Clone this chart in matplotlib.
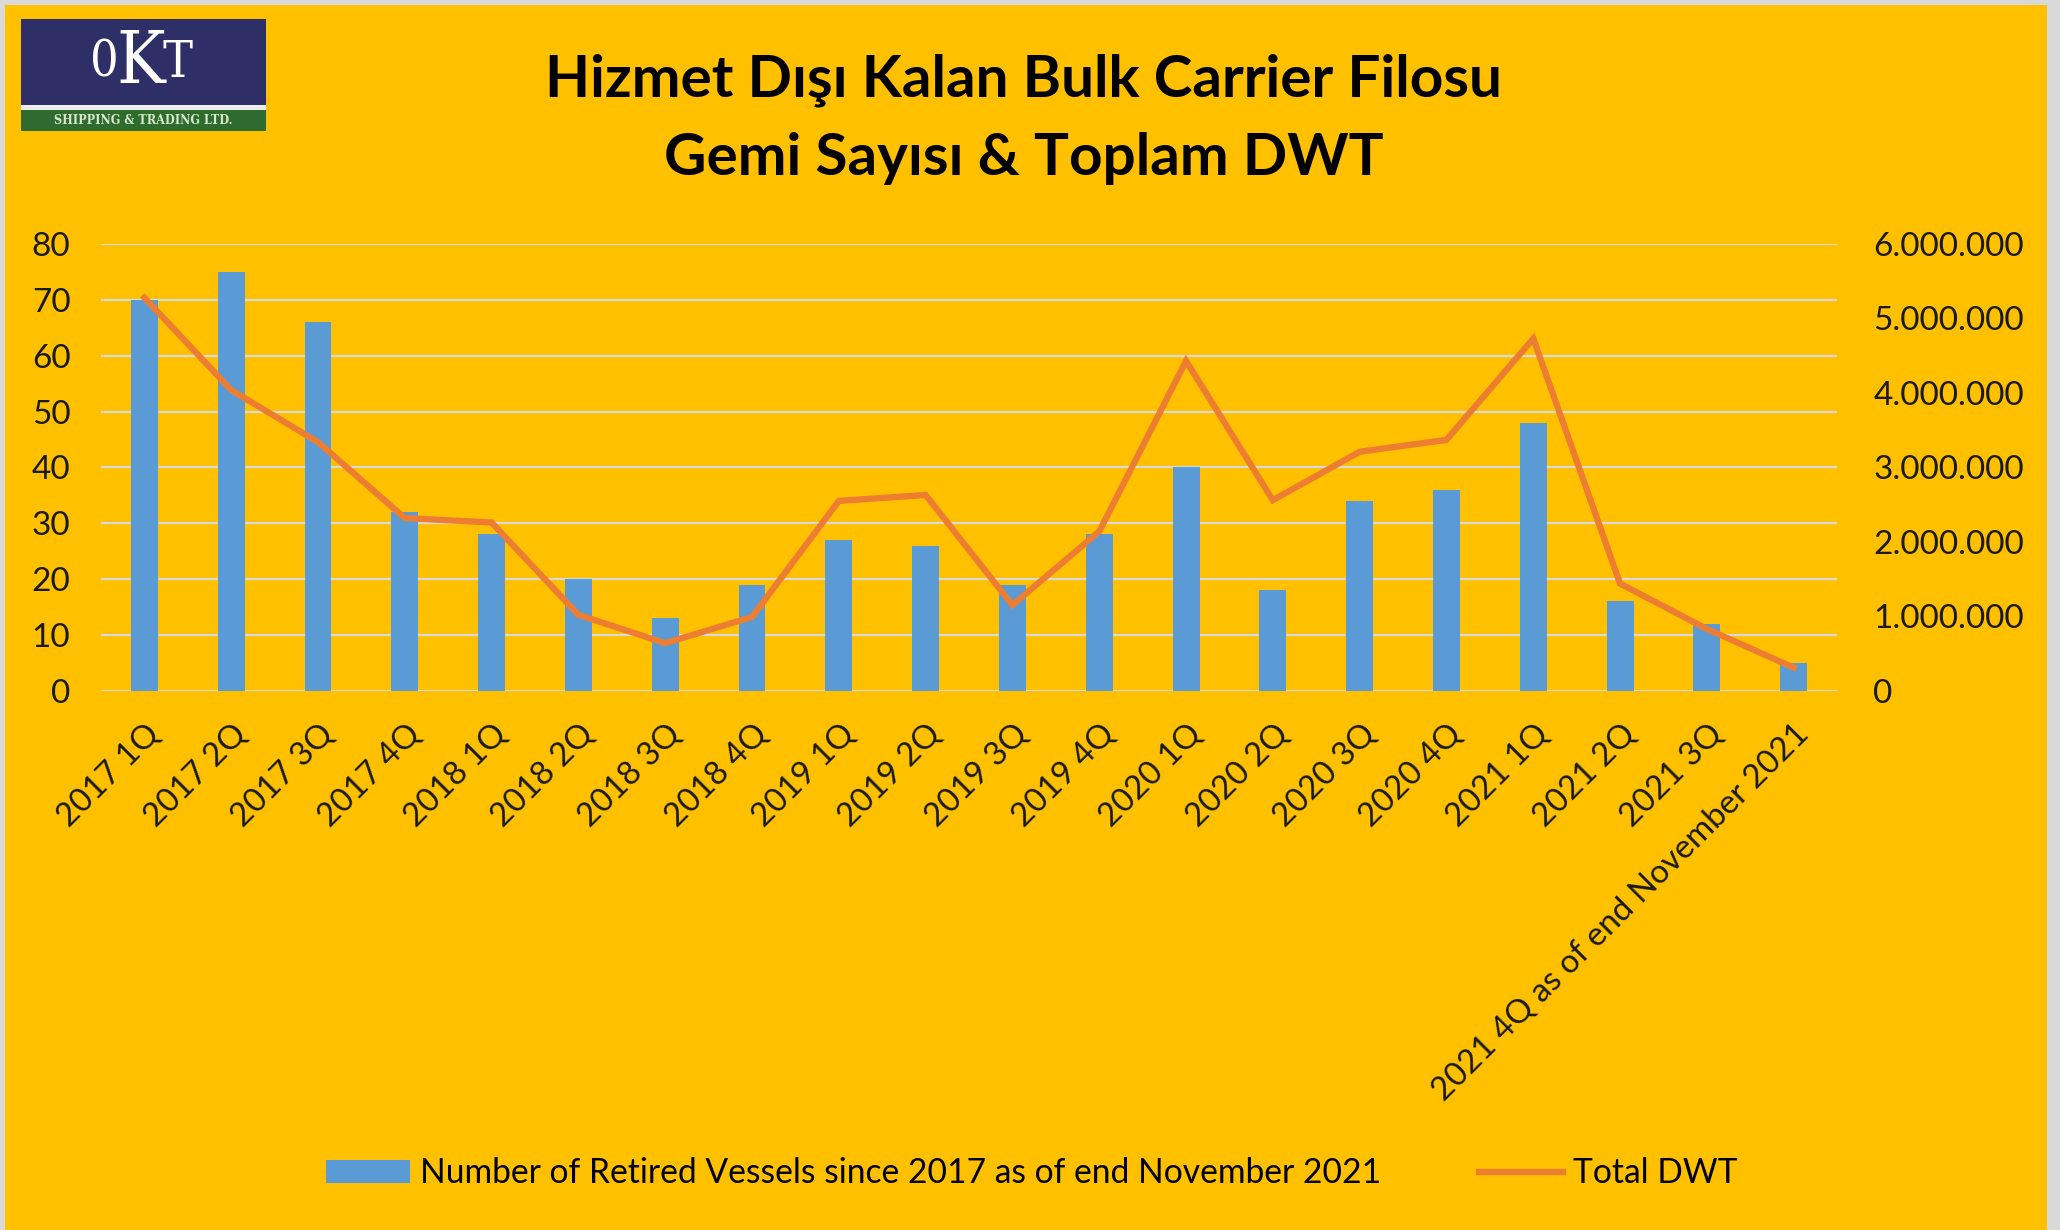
import numpy as np
import matplotlib.pyplot as plt
from matplotlib.patches import Rectangle
from matplotlib.ticker import FuncFormatter

plt.rcParams['font.family'] = ['Lato', 'DejaVu Sans']

# data
quarters = ['2017 1Q', '2017 2Q', '2017 3Q', '2017 4Q',
            '2018 1Q', '2018 2Q', '2018 3Q', '2018 4Q',
            '2019 1Q', '2019 2Q', '2019 3Q', '2019 4Q',
            '2020 1Q', '2020 2Q', '2020 3Q', '2020 4Q',
            '2021 1Q', '2021 2Q', '2021 3Q', '2021 4Q as of end November 2021']
vessels = [70, 75, 66, 32, 28, 20, 13, 19, 27, 26, 19, 28, 40, 18, 34, 36, 48, 16, 12, 5]
total_dwt = [5280000, 4040000, 3340000, 2320000, 2260000, 1020000, 640000, 990000,
             2550000, 2630000, 1150000, 2140000, 4430000, 2560000, 3210000, 3370000,
             4730000, 1440000, 830000, 310000]

bg = '#FFC000'
bar_c = '#5B9BD5'
line_c = '#ED7D31'
grid_c = '#D9D9D9'

fig = plt.figure(figsize=(20.6, 12.3), dpi=100, facecolor=grid_c)
fig.patches.append(Rectangle((5/2060, 0), 2042/2060, 1 - 5/1230, transform=fig.transFigure,
                             facecolor=bg, edgecolor='none', zorder=-10))

ax = fig.add_axes([0.049, 0.4384, 0.8428, 0.3632])
ax.set_facecolor('none')
x = np.arange(len(quarters))
ax.bar(x, vessels, width=0.31, color=bar_c, zorder=2,
       label='Number of Retired Vessels since 2017 as of end November 2021')
ax.set_ylim(0, 80)
ax.set_yticks(range(0, 81, 10))
ax.set_xlim(-0.5, len(quarters) - 0.5)
ax.yaxis.grid(True, color=grid_c, lw=1.6, zorder=0)
ax.set_axisbelow(True)
for s in ax.spines.values():
    s.set_visible(False)
ax.tick_params(axis='y', length=0, pad=22, labelsize=24, colors='#1a1a1a')
ax.tick_params(axis='x', length=0, pad=20)
ax.set_xticks(x)
ax.set_xticklabels(quarters, rotation=45, ha='right', va='top', rotation_mode='anchor',
                   fontsize=23.8, color='#1a1a1a')

ax2 = ax.twinx()
ax2.plot(x, total_dwt, color=line_c, lw=4.5, solid_joinstyle='miter', zorder=3, label='Total DWT')
ax2.set_ylim(0, 6000000)
ax2.set_yticks(range(0, 6000001, 1000000))
ax2.yaxis.set_major_formatter(FuncFormatter(lambda v, p: f'{int(v):,}'.replace(',', '.')))
for s in ax2.spines.values():
    s.set_visible(False)
ax2.tick_params(axis='y', length=0, pad=26, labelsize=24, colors='#1a1a1a')

# title
fig.text(0.497, 0.935, 'Hizmet Dışı Kalan Bulk Carrier Filosu', ha='center', va='center',
         fontsize=42, fontweight='bold')
fig.text(0.497, 0.871, 'Gemi Sayısı & Toplam DWT', ha='center', va='center',
         fontsize=42, fontweight='bold')

# legend
h1, l1 = ax.get_legend_handles_labels()
h2, l2 = ax2.get_legend_handles_labels()
fig.legend(h1 + h2, l1 + l2, loc='center', bbox_to_anchor=(0.501, 0.046), ncol=2,
           frameon=False, fontsize=24.2, handlelength=2.5, handleheight=0.7,
           columnspacing=2.9, handletextpad=0.3)

# logo
fig.patches.append(Rectangle((21/2060, 1 - 131/1230), 245/2060, 112/1230, transform=fig.transFigure,
                             facecolor='#EDEDED', edgecolor='none', zorder=1))
fig.patches.append(Rectangle((21/2060, 1 - 105/1230), 245/2060, 86/1230, transform=fig.transFigure,
                             facecolor='#2E2F66', edgecolor='none', zorder=1))
fig.patches.append(Rectangle((21/2060, 1 - 131/1230), 245/2060, 21/1230, transform=fig.transFigure,
                             facecolor='#2F6B2F', edgecolor='none', zorder=1))
logo_font = dict(color='white', family='DejaVu Serif', stretch='condensed', ha='center', va='center')
fig.text(104/2060, 1 - 63/1230, '0', fontsize=36, **logo_font)
fig.text(141/2060, 1 - 63/1230, 'K', fontsize=52, **logo_font)
fig.text(178/2060, 1 - 63/1230, 'T', fontsize=36, **logo_font)
fig.text(143/2060, 1 - 120/1230, 'SHIPPING & TRADING LTD.', color='#d8e8c8',
         family='DejaVu Serif', stretch='condensed', fontsize=9, fontweight='bold',
         ha='center', va='center')

fig.savefig('out.png', dpi=100, facecolor=fig.get_facecolor())
